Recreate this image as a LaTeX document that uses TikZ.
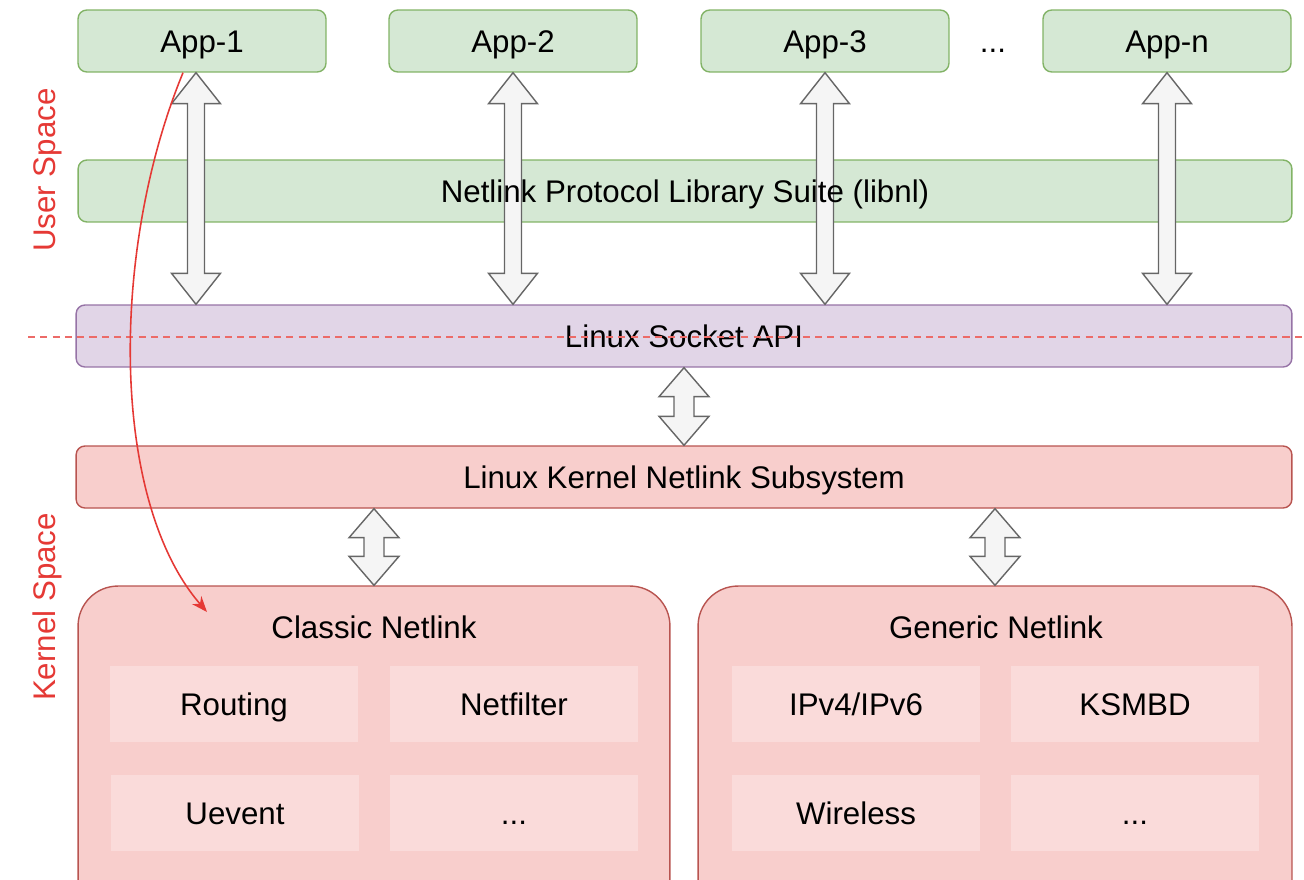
\documentclass[tikz,border=0pt]{standalone}
\usepackage{fontspec}
\setmainfont{Liberation Sans}
\usetikzlibrary{calc,arrows.meta}

\definecolor{usergreen}{HTML}{D5E8D4}
\definecolor{userline}{HTML}{82B366}
\definecolor{sockfill}{HTML}{E1D5E7}
\definecolor{sockline}{HTML}{9673A6}
\definecolor{kernfill}{HTML}{F8CECC}
\definecolor{kernline}{HTML}{B85450}
\definecolor{subfill}{HTML}{FADBDA}
\definecolor{arrfill}{HTML}{F5F5F5}
\definecolor{arrline}{HTML}{666666}
\definecolor{spacered}{HTML}{E53935}

\tikzset{
  lbl/.style={font=\fontsize{17.8}{21}\selectfont, text height=12.7pt, text depth=0pt},
  layer/.style={lbl, draw, rounded corners=5pt, line width=0.8pt, minimum height=1.24cm},
  appbox/.style={layer, fill=usergreen, draw=userline, minimum width=4.96cm},
  libbox/.style={layer, fill=usergreen, draw=userline, minimum width=24.28cm},
  sockbox/.style={layer, fill=sockfill, draw=sockline, minimum width=24.32cm},
  kernbox/.style={layer, fill=kernfill, draw=kernline, minimum width=24.32cm},
  groupbox/.style={draw=kernline, fill=kernfill, line width=0.8pt, rounded corners=0.8cm, minimum height=6.88cm},
  subbox/.style={lbl, fill=subfill, minimum width=4.96cm, minimum height=1.52cm},
  biarr/.style={draw=arrline, fill=arrfill, line width=0.8pt, line join=miter},
  spacelbl/.style={lbl, text=spacered, rotate=90},
}

% double headed block arrow: top, bottom, shaft half width, head half width, head length
\newcommand{\biarrow}[5]{%
  \draw[biarr] let \p1=(#1), \p2=(#2) in
    (\x1,\y1) -- (\x1+#4,\y1-#5) -- (\x1+#3,\y1-#5) -- (\x1+#3,\y2+#5)
    -- (\x1+#4,\y2+#5) -- (\x1,\y2) -- (\x1-#4,\y2+#5) -- (\x1-#3,\y2+#5)
    -- (\x1-#3,\y1-#5) -- (\x1-#4,\y1-#5) -- cycle;}

\begin{document}
\begin{tikzpicture}[x=0.02cm,y=-0.02cm]
  \useasboundingbox (0,0) rectangle (1304,879);
  \clip (0,0) rectangle (1304,879);

  % user space
  \node[appbox] (app1) at (202,41) {App-1};
  \node[appbox] (app2) at (513,41) {App-2};
  \node[appbox] (app3) at (825,41) {App-3};
  \node[lbl] (appdots) at (993,41) {...};
  \node[appbox] (appn) at (1167,41) {App-n};
  \node[libbox] (libnl) at (685,191) {};
  \node[sockbox] (sock) at (684,336) {};

  % kernel space
  \node[kernbox] (kern) at (684,477) {Linux Kernel Netlink Subsystem};
  \node[groupbox, minimum width=11.84cm] (classic) at (374,758) {};
  \node[lbl] (classictitle) at (374,627) {Classic Netlink};
  \node[groupbox, minimum width=11.88cm] (generic) at (995,758) {};
  \node[lbl] (generictitle) at (996,627) {Generic Netlink};

  \node[subbox] (routing) at (234,704) {Routing};
  \node[subbox] (netfilter) at (514,704) {Netfilter};
  \node[subbox] (uevent) at (235,813) {Uevent};
  \node[subbox] (classicdots) at (514,813) {...};
  \node[subbox] (ipv) at (856,704) {IPv4/IPv6};
  \node[subbox] (ksmbd) at (1135,704) {KSMBD};
  \node[subbox] (wireless) at (856,813) {Wireless};
  \node[subbox] (genericdots) at (1135,813) {...};

  \node[spacelbl] (userspace) at (44,170) {User Space};
  \node[spacelbl] (kernelspace) at (44,607) {Kernel Space};

  % block arrows
  \coordinate (a1top) at ($(app1.south)+(-6,0)$);
  \coordinate (a1bot) at (a1top |- sock.north);
  \biarrow{a1top}{a1bot}{0.17cm}{0.49cm}{0.62cm}
  \biarrow{app2.south}{app2.south |- sock.north}{0.17cm}{0.49cm}{0.62cm}
  \biarrow{app3.south}{app3.south |- sock.north}{0.17cm}{0.49cm}{0.62cm}
  \biarrow{appn.south}{appn.south |- sock.north}{0.17cm}{0.49cm}{0.62cm}
  \biarrow{sock.south}{kern.north}{0.2cm}{0.5cm}{0.58cm}
  \biarrow{kern.south -| classic.north}{classic.north}{0.2cm}{0.5cm}{0.58cm}
  \biarrow{kern.south -| generic.north}{generic.north}{0.2cm}{0.5cm}{0.58cm}

  % texts over the arrows
  \node[lbl] (libnltext) at (libnl.center) {Netlink Protocol Library Suite (libnl)};
  \node[lbl] (socktext) at (sock.center) {Linux Socket API};

  % user / kernel border
  \coordinate (borderl) at (28,337);
  \coordinate (borderr) at (1302,337);
  \draw[spacered!75, dashed, dash pattern=on 4pt off 3pt, line width=0.6pt] (borderl) -- (borderr);

  % message path
  \coordinate (msgstart) at ($(app1.south)+(-19,0)$);
  \coordinate (msgend) at (207,612);
  \draw[spacered, line width=0.9pt, -{Stealth[length=9pt,width=7pt]}]
    (msgstart) .. controls (110,250) and (110,500) .. (msgend);
\end{tikzpicture}
\end{document}
